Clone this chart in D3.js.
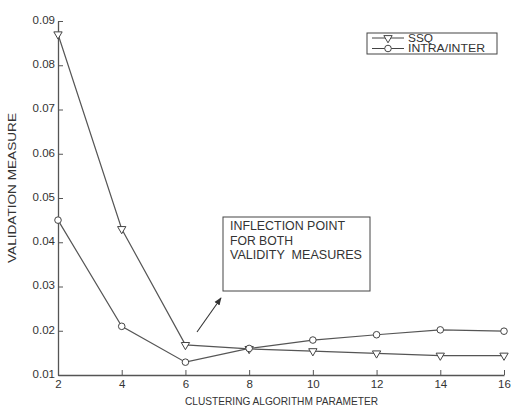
<!DOCTYPE html>
<html>
<head>
<meta charset="utf-8">
<script src="https://cdn.jsdelivr.net/npm/d3@7"></script>
<style>
  body { margin: 0; background: #fff; }
  text { font-family: "Liberation Sans", Arial, sans-serif; fill: #333; }
</style>
</head>
<body>
<div id="chart"></div>
<script>
const width = 525, height = 406;

// data
const params = [2, 4, 6, 8, 10, 12, 14, 16];
const ssq = [0.087, 0.043, 0.0168, 0.0159, 0.0154, 0.0149, 0.0144, 0.0144];
const intraInter = [0.045, 0.021, 0.0129, 0.016, 0.0179, 0.0191, 0.0202, 0.0199];
const yTicks = [0.01, 0.02, 0.03, 0.04, 0.05, 0.06, 0.07, 0.08, 0.09];
const note = ["INFLECTION POINT", "FOR BOTH", "VALIDITY  MEASURES"];
const noteLen = [115, 63, 132];

const margin = {left: 58, right: 20, top: 21, bottom: 31};

var svg = d3.select("#chart").append("svg")
    .attr("width", width)
    .attr("height", height);

var x = d3.scaleLinear().domain([2, 16]).range([margin.left, width - margin.right - 1]);
var y = d3.scaleLinear().domain([0.01, 0.09]).range([height - margin.bottom, margin.top]);

// axes, ticks pointing inward
var xAxis = svg.append("g")
    .attr("transform", "translate(0," + y(0.01) + ")")
    .call(d3.axisBottom(x).tickValues(params).tickSizeInner(-5).tickSizeOuter(0).tickPadding(5));
var yAxis = svg.append("g")
    .attr("transform", "translate(" + x(2) + ",0)")
    .call(d3.axisLeft(y).tickValues(yTicks).tickFormat(d3.format(".2f")).tickSizeInner(-5).tickSizeOuter(0).tickPadding(3));

[xAxis, yAxis].forEach(function(a) {
  a.select(".domain").attr("stroke", "#555").attr("stroke-width", 1.3);
  a.selectAll(".tick line").attr("stroke", "#555");
  a.selectAll(".tick text").style("font-size", "11.5px").attr("fill", "#333");
});
yAxis.selectAll(".tick text").attr("dy", "0.2em");

// axis titles
svg.append("text")
    .attr("x", 185).attr("y", 405)
    .attr("textLength", 193).attr("lengthAdjust", "spacingAndGlyphs")
    .style("font-size", "11px")
    .text("CLUSTERING ALGORITHM PARAMETER");
svg.append("text")
    .attr("transform", "translate(16,263) rotate(-90)")
    .attr("textLength", 150).attr("lengthAdjust", "spacingAndGlyphs")
    .style("font-size", "10.5px")
    .text("VALIDATION MEASURE");

var line = d3.line()
    .x(function(d, i) { return x(params[i]); })
    .y(function(d) { return y(d); });

var tri = d3.symbol().type(d3.symbolTriangle).size(30);

function drawSeries(vals, marker) {
  svg.append("path")
      .datum(vals)
      .attr("d", line)
      .attr("fill", "none")
      .attr("stroke", "#555")
      .attr("stroke-width", 1.2);
  var g = svg.append("g").selectAll("g")
      .data(vals)
      .enter().append("g")
      .attr("transform", function(d, i) { return "translate(" + x(params[i]) + "," + y(d) + ")"; });
  marker(g);
}

function triMarker(g) {
  g.append("path")
      .attr("d", tri)
      .attr("transform", "rotate(180)")
      .attr("fill", "#fff")
      .attr("stroke", "#444")
      .attr("stroke-width", 1);
}
function circMarker(g) {
  g.append("circle")
      .attr("r", 3.3)
      .attr("fill", "#fff")
      .attr("stroke", "#444")
      .attr("stroke-width", 1);
}

drawSeries(ssq, triMarker);
drawSeries(intraInter, circMarker);

// legend
var legend = svg.append("g");
legend.append("rect")
    .attr("x", 367).attr("y", 33).attr("width", 130).attr("height", 21)
    .attr("fill", "#fff").attr("stroke", "#444");
var legItems = [["SSQ", triMarker, 25], ["INTRA/INTER", circMarker, 77]];
legItems.forEach(function(it, i) {
  var ly = 38 + i * 10.5;
  legend.append("line")
      .attr("x1", 372).attr("x2", 404).attr("y1", ly).attr("y2", ly)
      .attr("stroke", "#444");
  var m = legend.append("g").attr("transform", "translate(388," + ly + ")");
  it[1](m);
  legend.append("text")
      .attr("x", 408).attr("y", ly + 3.5)
      .attr("textLength", it[2]).attr("lengthAdjust", "spacingAndGlyphs")
      .style("font-size", "10px")
      .text(it[0]);
});

// annotation box with arrow
svg.append("rect")
    .attr("x", 223).attr("y", 217).attr("width", 147).attr("height", 74)
    .attr("fill", "#fff").attr("stroke", "#444");
svg.append("g").selectAll("text")
    .data(note)
    .enter().append("text")
    .attr("x", 230)
    .attr("y", function(d, i) { return 230 + i * 14.5; })
    .attr("textLength", function(d, i) { return noteLen[i]; })
    .attr("lengthAdjust", "spacingAndGlyphs")
    .style("font-size", "12.5px")
    .style("white-space", "pre")
    .text(function(d) { return d; });

svg.append("defs").append("marker")
    .attr("id", "arrow")
    .attr("viewBox", "0 0 10 10")
    .attr("refX", 9).attr("refY", 5)
    .attr("markerWidth", 7).attr("markerHeight", 7)
    .attr("orient", "auto")
  .append("path")
    .attr("d", "M0,1 L10,5 L0,9 z")
    .attr("fill", "#333");
svg.append("line")
    .attr("x1", 197).attr("y1", 332).attr("x2", 221).attr("y2", 298)
    .attr("stroke", "#333").attr("stroke-width", 1.1)
    .attr("marker-end", "url(#arrow)");
</script>
</body>
</html>
